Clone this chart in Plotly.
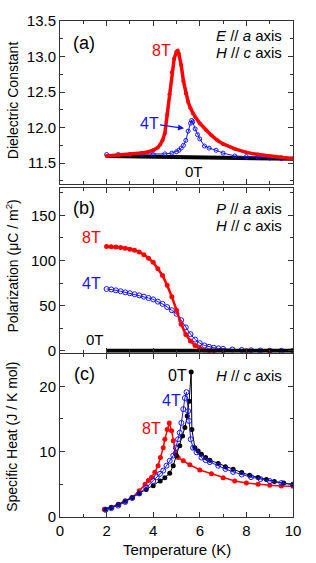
import plotly.graph_objects as go

# ---------------- data ----------------
# (a) dielectric constant
Ta_0 = [2.0, 3.0, 4.0, 5.0, 6.0, 7.0, 8.0, 9.0, 10.0]
eps_0 = [11.60, 11.595, 11.59, 11.585, 11.58, 11.575, 11.57, 11.565, 11.56]

Ta_8 = [2.0, 2.5, 3.0, 3.5, 3.8, 4.0, 4.2, 4.3, 4.4, 4.5, 4.6, 4.7, 4.8, 4.9, 5.0, 5.05,
        5.1, 5.2, 5.3, 5.4, 5.5, 5.6, 5.7, 5.8, 6.0, 6.25, 6.5, 6.75, 7.0, 7.5, 8.0, 8.5,
        9.0, 9.5, 10.0]
eps_8 = [11.60, 11.61, 11.62, 11.64, 11.66, 11.68, 11.72, 11.76, 11.82, 11.92, 12.18, 12.47,
         12.78, 12.97, 13.07, 13.08, 13.04, 12.88, 12.65, 12.48, 12.36, 12.27, 12.20, 12.15,
         12.06, 11.97, 11.89, 11.82, 11.77, 11.70, 11.65, 11.62, 11.60, 11.58, 11.56]

Ta_4 = [2.0, 2.5, 3.0, 3.5, 4.0, 4.5, 4.8, 5.0, 5.1, 5.2, 5.3, 5.4, 5.5, 5.6, 5.65, 5.7,
        5.8, 5.9, 6.0, 6.2, 6.4, 6.7, 7.0, 7.5, 8.0, 8.5, 9.0, 9.5, 10.0]
eps_4 = [11.62, 11.62, 11.62, 11.62, 11.62, 11.63, 11.64, 11.66, 11.68, 11.71, 11.75, 11.82,
         11.95, 12.06, 12.10, 12.08, 11.98, 11.90, 11.84, 11.74, 11.71, 11.68, 11.64, 11.60,
         11.59, 11.58, 11.57, 11.56, 11.56]

# (b) polarization
Tb_0 = [2.0, 4.0, 6.0, 8.0, 10.0]
P_0 = [0, 0, 0, 0, 0]

Tb_8 = [2.0, 2.2, 2.4, 2.6, 2.8, 3.0, 3.2, 3.4, 3.6, 3.8, 4.0, 4.2, 4.4, 4.6, 4.8, 5.0,
        5.2, 5.4, 5.6, 5.8, 6.0, 6.2, 6.4, 6.6, 7.0, 8.0, 9.0, 10.0]
P_8 = [115.5, 115.3, 115.0, 114.5, 113.5, 112.5, 111.5, 109.5, 106.5, 102.5, 98.0, 91.0,
       83.5, 72.5, 60.0, 45.0, 29.5, 18.0, 11.0, 6.0, 2.8, 0.8, 0.2, 0, 0, 0, 0, 0]

Tb_4 = [2.0, 2.2, 2.4, 2.6, 2.8, 3.0, 3.2, 3.4, 3.6, 3.8, 4.0, 4.2, 4.4, 4.6, 4.8, 5.0,
        5.2, 5.4, 5.6, 5.8, 6.0, 6.2, 6.4, 6.6, 6.8, 7.0, 7.4, 7.8, 8.2, 8.6, 9.0, 9.5, 10.0]
P_4 = [68.5, 68.0, 67.0, 66.0, 64.8, 63.8, 62.7, 61.4, 60.0, 58.5, 57.0, 54.5, 52.0, 48.5,
       45.0, 41.0, 34.0, 26.0, 18.5, 12.5, 8.5, 6.0, 4.5, 3.4, 2.7, 2.2, 1.5, 1.0, 0.6, 0.4,
       0.2, 0.1, 0]

# (c) specific heat
Tc_0 = [1.97, 2.2, 2.5, 2.8, 3.1, 3.4, 3.7, 4.0, 4.3, 4.5, 4.71, 4.86, 5.0, 5.14, 5.26, 5.36,
        5.46, 5.54, 5.63, 5.66, 5.79, 5.93, 6.07, 6.25, 6.43, 6.79, 7.1, 7.43, 7.8, 8.14, 8.5,
        8.86, 9.2, 9.6, 10.0]
C_0 = [1.2, 1.45, 1.9, 2.4, 3.0, 3.6, 4.2, 4.8, 5.5, 6.0, 6.7, 7.85, 9.4, 10.9, 12.4, 13.7,
       15.45, 17.7, 22.2, 13.4, 10.6, 10.1, 9.6, 9.1, 8.7, 8.2, 7.7, 7.3, 6.8, 6.4, 6.05,
       5.75, 5.45, 5.2, 5.0]

Tc_4 = [1.95, 2.2, 2.5, 2.8, 3.1, 3.4, 3.7, 4.0, 4.15, 4.29, 4.43, 4.57, 4.71, 4.86, 4.97,
        5.07, 5.14, 5.21, 5.29, 5.36, 5.43, 5.5, 5.54, 5.61, 5.71, 5.86, 6.07, 6.25, 6.43,
        6.79, 7.1, 7.43, 7.8, 8.2, 8.6, 9.0, 9.5, 10.0]
C_4 = [1.1, 1.35, 1.75, 2.3, 2.9, 3.6, 4.5, 5.5, 6.1, 6.6, 7.1, 7.85, 8.6, 9.4, 10.6, 11.9,
       12.9, 14.4, 16.5, 18.2, 19.1, 16.2, 14.7, 11.9, 10.6, 9.9, 9.1, 8.7, 8.4, 7.85, 7.35,
       6.9, 6.5, 6.1, 5.8, 5.5, 5.2, 4.95]

Tc_8 = [1.9, 2.2, 2.5, 2.8, 3.1, 3.4, 3.65, 3.79, 3.93, 4.07, 4.21, 4.31, 4.43, 4.5, 4.6,
        4.69, 4.79, 4.86, 4.96, 5.07, 5.29, 5.57, 6.0, 6.5, 7.0, 7.5, 8.0, 8.5, 9.0, 9.5, 10.0]
C_8 = [1.2, 1.5, 1.95, 2.5, 3.0, 4.0, 5.0, 5.6, 6.1, 6.85, 7.85, 9.1, 10.6, 11.9, 13.4, 14.4,
       13.2, 11.65, 9.9, 9.1, 8.6, 8.0, 7.2, 6.6, 6.0, 5.5, 5.2, 5.0, 4.85, 4.75, 4.7]

# ---------------- figure ----------------
RED = "#ff0000"
BLUE = "#1414ff"
FONT = "Liberation Sans, Arial, sans-serif"

W, H = 316, 563
L, R, T, B = 60, 23, 13, 46
PW = W - L - R
PH = H - T - B


def pxx(x):
    return (x - L) / PW


def pyy(y):
    return (H - B - y) / PH


fig = go.Figure()

# panel (a)
fig.add_trace(go.Scatter(x=Ta_0, y=eps_0, mode="lines", line=dict(color="black", width=4),
                         xaxis="x", yaxis="y", showlegend=False))
fig.add_trace(go.Scatter(x=Ta_4, y=eps_4, mode="lines+markers",
                         line=dict(color=BLUE, width=1),
                         marker=dict(symbol="circle-open", size=4, color=BLUE, line=dict(width=1)),
                         xaxis="x", yaxis="y", showlegend=False))
fig.add_trace(go.Scatter(x=Ta_8, y=eps_8, mode="lines+markers",
                         line=dict(color=RED, width=3.5),
                         marker=dict(symbol="circle", size=4, color=RED),
                         xaxis="x", yaxis="y", showlegend=False))

# panel (b)
fig.add_trace(go.Scatter(x=Tb_4, y=P_4, mode="lines+markers",
                         line=dict(color=BLUE, width=1),
                         marker=dict(symbol="circle-open", size=5, color=BLUE, line=dict(width=1)),
                         xaxis="x2", yaxis="y2", showlegend=False))
fig.add_trace(go.Scatter(x=Tb_8, y=P_8, mode="lines+markers",
                         line=dict(color=RED, width=2.5),
                         marker=dict(symbol="circle", size=5, color=RED),
                         xaxis="x2", yaxis="y2", showlegend=False))
fig.add_trace(go.Scatter(x=Tb_0, y=P_0, mode="lines", line=dict(color="black", width=4),
                         xaxis="x2", yaxis="y2", showlegend=False))

# panel (c)
fig.add_trace(go.Scatter(x=Tc_8, y=C_8, mode="lines+markers",
                         line=dict(color=RED, width=1.5),
                         marker=dict(symbol="circle", size=5, color=RED),
                         xaxis="x3", yaxis="y3", showlegend=False))
fig.add_trace(go.Scatter(x=Tc_0, y=C_0, mode="lines+markers",
                         line=dict(color="black", width=1),
                         marker=dict(symbol="circle", size=5, color="black"),
                         xaxis="x3", yaxis="y3", showlegend=False))
fig.add_trace(go.Scatter(x=Tc_4, y=C_4, mode="lines+markers",
                         line=dict(color=BLUE, width=1),
                         marker=dict(symbol="circle-open", size=5, color=BLUE, line=dict(width=1)),
                         xaxis="x3", yaxis="y3", showlegend=False))

axc = dict(showline=True, linecolor="#333", linewidth=1, mirror="ticks", ticks="inside",
           ticklen=5, tickcolor="#333", tickwidth=1,
           tickfont=dict(size=15, color="black", family=FONT),
           zeroline=False, showgrid=False)

xbase = dict(axc, range=[0, 10], tickvals=[0, 2, 4, 6, 8, 10],
             minor=dict(ticks="inside", ticklen=3, dtick=1, tickcolor="#333", showgrid=False))

dom_a = [pyy(179), 1.0]
dom_b = [pyy(350), pyy(183)]
dom_c = [0.0, pyy(351)]

fig.update_layout(
    width=W, height=H,
    margin=dict(l=L, r=R, t=T, b=B),
    paper_bgcolor="white", plot_bgcolor="white",
    font=dict(family=FONT, color="black"),
    xaxis=dict(xbase, anchor="y", domain=[0, 1], showticklabels=False),
    xaxis2=dict(xbase, anchor="y2", domain=[0, 1], showticklabels=False, matches="x"),
    xaxis3=dict(xbase, anchor="y3", domain=[0, 1], showticklabels=True, matches="x"),
    yaxis=dict(axc, anchor="x", domain=dom_a, range=[11.2, 13.5],
               tickvals=[11.5, 12.0, 12.5, 13.0, 13.5], ticktext=["11.5", "12.0", "12.5", "13.0", "13.5"],
               minor=dict(ticks="inside", ticklen=3, dtick=0.25, tick0=11.5, tickcolor="#333")),
    yaxis2=dict(axc, anchor="x2", domain=dom_b, range=[-2, 180],
                tickvals=[0, 50, 100, 150],
                minor=dict(ticks="inside", ticklen=3, dtick=25, tick0=0, tickcolor="#333")),
    yaxis3=dict(axc, anchor="x3", domain=dom_c, range=[0, 25],
                tickvals=[0, 10, 20],
                minor=dict(ticks="inside", ticklen=3, dtick=5, tick0=0, tickcolor="#333")),
)

anns = []


def ann(text, x, y, color="black", size=15, xanchor="center", angle=0):
    anns.append(dict(text=text, x=pxx(x), y=pyy(y), xref="paper", yref="paper",
                     xanchor=xanchor, yanchor="middle", showarrow=False, textangle=angle,
                     font=dict(size=size, color=color, family=FONT)))


# panel labels and conditions
ann("(a)", 84, 35, size=18)
ann("<i>E</i> // <i>a</i> axis", 284, 28, xanchor="right")
ann("<i>H</i> // <i>c</i> axis", 284, 45, xanchor="right")
ann("(b)", 84, 203, size=18)
ann("<i>P</i> // <i>a</i> axis", 284, 204, xanchor="right")
ann("<i>H</i> // <i>c</i> axis", 284, 221, xanchor="right")
ann("(c)", 84, 372, size=18)
ann("<i>H</i> // <i>c</i> axis", 284, 373, xanchor="right")

# curve labels
ann("8T", 161, 43, color=RED, size=16)
ann("0T", 194, 166, size=15)
ann("8T", 91, 233, color=RED, size=16)
ann("4T", 91, 280, color=BLUE, size=16)
ann("0T", 95, 337, size=15)
ann("0T", 177, 373, size=16)
ann("4T", 171, 399, color=BLUE, size=16)
ann("8T", 151, 427, color=RED, size=16)

# 4T with arrow in (a)
anns.append(dict(text="4T", x=pxx(184), y=pyy(122), xref="paper", yref="paper",
                 ax=-35, ay=-5, showarrow=True, arrowhead=2, arrowsize=1, arrowwidth=1.2,
                 arrowcolor=BLUE, standoff=0,
                 font=dict(size=16, color=BLUE, family=FONT)))

# axis titles
ann("Dielectric Constant", 12.5, 94, size=14, angle=-90)
ann("Polarization (μC / m<sup>2</sup>)", 12.5, 262, size=14, angle=-90)
ann("Specific Heat (J / K mol)", 12.5, 436, size=14, angle=-90)
ann("Temperature (K)", 176.5, 550, size=15)

fig.update_layout(annotations=anns)

fig.write_html("out.html", config={"displayModeBar": False},
               post_script="document.body.style.margin='0';document.body.style.overflow='hidden';")
